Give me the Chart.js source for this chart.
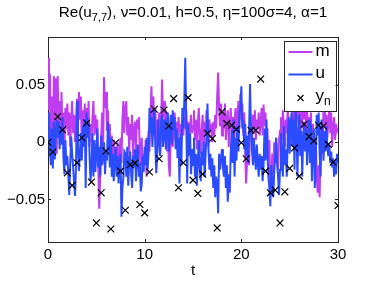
<!DOCTYPE html>
<html><head><meta charset="utf-8">
<script src="https://cdn.jsdelivr.net/npm/chart.js@4.4.0/dist/chart.umd.min.js"></script>
<style>html,body{margin:0;padding:0;background:#fff;}canvas{display:block;}</style>
</head><body>
<canvas id="c" width="374" height="281"></canvas>
<script>
// ---------------- data ----------------
const timeStep = 0.1;   // sample spacing of m and u
const obsStep = 0.5;    // spacing of observations y_n (h = 0.5)

const mValues = [
 0.074, 0.028, 0.060, -0.004, 0.040, -0.018, 0.058, 0.006, 0.056, -0.010,
 0.058, 0.014, 0.036, 0.002, 0.044, 0.010, 0.026, -0.006, 0.030, 0.012,
 0.034, 0.006, 0.026, -0.004, 0.020, 0.036, 0.008, 0.024, 0.000, 0.018,
 0.038, 0.012, 0.044, 0.020, 0.040, -0.006, 0.028, 0.004, 0.034, 0.010,
 0.030, 0.012, 0.036, -0.004, 0.016, 0.000, 0.022, 0.036, 0.006, 0.024,
 0.008, 0.020, -0.020, -0.058, -0.030, 0.004, 0.026, -0.006, 0.057, 0.030,
 0.044, 0.010, 0.028, -0.004, 0.016, -0.016, 0.006, -0.026, 0.002, -0.020,
 -0.004, -0.024, 0.000, -0.030, -0.012, 0.004, -0.018, 0.020, 0.036, 0.008,
 0.030, 0.036, 0.006, 0.022, -0.010, 0.016, 0.002, 0.024, -0.012, 0.010,
 0.018, -0.006, 0.020, 0.012, 0.022, -0.008, -0.020, 0.004, -0.026, -0.010,
 -0.020, 0.002, -0.030, -0.014, 0.010, -0.008, 0.024, 0.049, 0.010, 0.040,
 0.014, 0.030, -0.006, 0.020, 0.002, 0.026, -0.010, 0.016, 0.055, 0.022,
 0.036, 0.004, 0.028, -0.008, 0.012, -0.020, -0.030, 0.006, 0.018, -0.004,
 0.014, 0.026, 0.002, 0.018, -0.006, 0.022, 0.008, 0.016, 0.000, 0.020,
 0.006, 0.022, 0.012, 0.028, 0.004, 0.018, -0.004, 0.014, 0.024, 0.008,
 0.014, 0.028, 0.002, 0.020, -0.006, 0.016, 0.030, 0.004, -0.010, 0.012,
 0.024, -0.008, 0.018, 0.006, 0.028, 0.010, -0.004, 0.020, 0.008, 0.016,
 0.000, 0.018, 0.006, 0.024, 0.012, 0.040, 0.061, 0.030, 0.014, 0.034,
 0.006, 0.026, 0.012, 0.034, 0.002, 0.020, 0.028, -0.004, 0.016, 0.030,
 0.010, 0.022, 0.002, 0.018, 0.030, 0.004, 0.024, 0.036, 0.012, 0.042,
 0.020, 0.034, 0.006, 0.026, -0.010, -0.036, -0.014, 0.006, -0.020, 0.008,
 0.018, 0.004, 0.024, 0.010, 0.028, 0.002, 0.020, 0.012, 0.026, 0.006,
 0.018, 0.030, 0.006, 0.033, 0.014, 0.026, -0.004, 0.012, -0.016, 0.002,
 -0.042, -0.034, -0.010, -0.028, 0.000, -0.018, 0.004, -0.014, -0.024, 0.002,
 0.010, 0.022, 0.002, 0.028, 0.014, -0.004, 0.020, 0.008, 0.030, 0.012,
 0.020, -0.002, 0.018, 0.030, 0.006, 0.034, 0.010, 0.024, 0.040, 0.016,
 0.028, 0.004, 0.036, 0.012, 0.049, 0.020, 0.044, 0.008, 0.030, 0.002,
 0.022, 0.010, 0.026, -0.004, 0.016, 0.006, -0.012, 0.004, -0.030, -0.044,
 -0.020, -0.048, -0.006, 0.016, -0.010, 0.030, 0.040, 0.012, 0.024, 0.004,
 0.018, 0.032, 0.008, 0.026, -0.004, 0.014, 0.022, 0.002, 0.016, 0.010,
 0.012
];

const uValues = [
 0.000, 0.026, -0.008, -0.020, 0.012, -0.023, 0.018, -0.015, 0.008, 0.020,
 0.004, 0.018, -0.006, 0.012, -0.002, 0.022, -0.014, -0.028, 0.002, -0.020,
 -0.012, -0.028, -0.046, -0.018, 0.005, -0.010, -0.022, -0.035, -0.047, -0.020,
 0.036, -0.005, -0.025, -0.010, 0.008, -0.016, 0.014, -0.004, 0.020, -0.040,
 0.026, 0.004, 0.018, -0.012, -0.034, -0.020, 0.008, -0.030, 0.002, -0.026,
 -0.010, 0.012, -0.022, -0.004, -0.030, 0.006, -0.020, -0.012, 0.000, -0.028,
 -0.008, -0.016, 0.018, 0.002, -0.022, 0.004, -0.030, -0.010, -0.034, -0.016,
 -0.004, -0.030, -0.012, -0.036, -0.020, -0.010, -0.065, -0.040, -0.030, -0.008,
 -0.010, -0.030, -0.004, -0.038, -0.016, -0.008, -0.028, -0.040, -0.012, -0.022,
 -0.006, -0.034, -0.014, -0.002, -0.030, -0.018, -0.043, -0.036, -0.012, -0.026,
 -0.004, -0.020, 0.004, -0.024, -0.010, 0.030, 0.008, 0.022, -0.004, 0.016,
 0.028, -0.002, -0.027, -0.010, 0.020, 0.002, -0.012, 0.018, 0.024, -0.004,
 0.020, 0.006, -0.006, 0.016, 0.026, -0.008, 0.010, 0.024, -0.002, 0.028,
 0.010, 0.022, -0.006, 0.012, -0.014, 0.004, -0.036, 0.008, -0.020, 0.030,
 0.012, 0.036, 0.074, 0.020, -0.036, 0.016, -0.012, 0.008, -0.028, -0.006,
 -0.020, 0.004, -0.030, -0.010, -0.038, -0.016, 0.002, -0.024, -0.034, -0.008,
 -0.020, 0.000, -0.030, -0.012, 0.008, 0.034, -0.006, -0.024, -0.010, -0.030,
 -0.014, -0.040, -0.020, -0.048, -0.030, -0.036, -0.062, -0.010, -0.024, -0.014,
 -0.006, -0.022, -0.030, -0.012, -0.040, -0.020, -0.052, -0.028, -0.044, -0.010,
 0.010, -0.018, 0.020, -0.030, 0.004, -0.016, 0.014, -0.008, 0.024, 0.030,
 0.049, 0.012, 0.020, -0.006, 0.016, -0.012, 0.006, -0.018, 0.010, 0.051,
 0.012, -0.006, -0.020, 0.004, -0.012, -0.024, -0.002, -0.018, -0.030, -0.010,
 -0.024, -0.012, -0.034, -0.020, 0.012, -0.016, 0.020, -0.008, -0.030, -0.040,
 -0.056, -0.020, -0.036, -0.048, -0.026, -0.012, 0.004, -0.018, -0.030, -0.046,
 -0.024, 0.008, -0.014, -0.030, 0.014, -0.020, -0.006, -0.030, 0.004, 0.022,
 -0.010, 0.016, 0.026, -0.004, 0.020, -0.024, 0.031, 0.018, -0.030, 0.006,
 0.024, -0.012, 0.010, -0.030, 0.004, 0.018, -0.008, 0.012, -0.020, 0.000,
 0.020, -0.018, 0.016, -0.034, -0.008, 0.012, -0.040, -0.016, 0.024, 0.006,
 0.026, -0.010, -0.030, 0.020, 0.004, -0.016, 0.010, -0.008, 0.014, -0.004,
 -0.012, -0.002, -0.018, -0.008, -0.022, -0.014, -0.030, -0.016, -0.028, -0.010,
 -0.018
];

const obsValues = [
 0.000, -0.0085, 0.0225, 0.011, -0.0267, -0.0377, -0.0179, 0.004, 0.0169, -0.0348,
 -0.0705, -0.0442, -0.0076, -0.0758, -0.0004, -0.0252, -0.0594, -0.0196, -0.0182, -0.0544,
 -0.0617, -0.026, 0.0289, -0.0144, 0.0283, 0.0143, 0.0382, -0.0398, -0.0179, 0.0391,
 -0.0331, -0.0447, -0.0278, 0.0079, 0.0032, -0.0749, 0.0266, 0.0163, 0.0149, 0.0114,
 -0.0004, -0.0144, 0.0105, 0.0105, 0.0553, -0.0252, -0.0442, -0.0418, -0.0705, -0.0433,
 -0.0228, -0.005, -0.0296, 0.0158, 0.005, 0.0011, 0.0149, 0.0143, -0.0018, -0.0173,
 -0.0553
];

const xTickValues = [0, 10, 20, 30];
const xTickLabels = ['0', '10', '20', '30'];
const yTickValues = [-0.05, 0, 0.05];
const yTickLabels = ['\u22120.05', '0', '0.05'];
const xRange = [0, 30];
const yRange = [-0.0872, 0.0921];
const seriesLabels = ['m', 'u', 'y_n'];
const xAxisLabel = 't';
const titleMain = 'Re(u';
const titleSub = '7,7';
const titleRest = '), \u03bd=0.01, h=0.5, \u03b7=100\u03c3=4, \u03b1=1';

// ---------------- styling ----------------
const FONT_FAMILY = '"Liberation Sans", Arial, Helvetica, sans-serif';
const M_COLOR = '#bf3cf0';
const U_COLOR = '#2b4bff';
const AXIS_COLOR = '#262626';

const mPoints = mValues.map((v, i) => ({ x: i * timeStep, y: v }));
const uPoints = uValues.map((v, i) => ({ x: i * timeStep, y: v }));
const obsPoints = obsValues.map((v, i) => ({ x: i * obsStep, y: v }));

function drawSubText(ctx, parts, x, y, size) {
  let cx = x;
  parts.forEach(p => {
    ctx.font = (p.sub ? Math.round(size * 0.72) : size) + 'px ' + FONT_FAMILY;
    ctx.fillText(p.t, cx, p.sub ? y + size * 0.32 : y);
    cx += ctx.measureText(p.t).width;
  });
}
function measureParts(ctx, parts, size) {
  let w = 0;
  parts.forEach(p => {
    ctx.font = (p.sub ? Math.round(size * 0.72) : size) + 'px ' + FONT_FAMILY;
    w += ctx.measureText(p.t).width;
  });
  return w;
}
function labelParts(label) {
  const k = label.indexOf('_');
  if (k < 0) return [{ t: label, sub: false }];
  return [{ t: label.slice(0, k), sub: false }, { t: label.slice(k + 1), sub: true }];
}

const framePlugin = {
  id: 'frame',
  beforeDatasetsDraw(chart) {
    const { ctx, chartArea: a } = chart;
    const xs = chart.scales.x, ys = chart.scales.y;
    ctx.save();
    ctx.strokeStyle = AXIS_COLOR;
    ctx.lineWidth = 1;
    ctx.strokeRect(Math.round(a.left) + 0.5, Math.round(a.top) + 0.5,
      Math.round(a.right - a.left), Math.round(a.bottom - a.top));
    const tl = 3;
    ctx.beginPath();
    xTickValues.forEach(v => {
      const px = Math.round(xs.getPixelForValue(v)) + 0.5;
      ctx.moveTo(px, a.bottom); ctx.lineTo(px, a.bottom - tl);
      ctx.moveTo(px, a.top); ctx.lineTo(px, a.top + tl);
    });
    yTickValues.forEach(v => {
      const py = Math.round(ys.getPixelForValue(v)) + 0.5;
      ctx.moveTo(a.left, py); ctx.lineTo(a.left + tl, py);
      ctx.moveTo(a.right, py); ctx.lineTo(a.right - tl, py);
    });
    ctx.stroke();
    ctx.restore();
  },
  afterDraw(chart) {
    const { ctx, chartArea: a } = chart;
    ctx.save();
    // title
    const size = 15.3;
    const parts = [{ t: titleMain, sub: false }, { t: titleSub, sub: true }, { t: titleRest, sub: false }];
    const w = measureParts(ctx, parts, size);
    ctx.fillStyle = '#000';
    ctx.textBaseline = 'middle';
    drawSubText(ctx, parts, (a.left + a.right) / 2 - w / 2, 13, size);

    // legend
    const bw = 52, bh = 70;
    const bx = a.right - 54.5, by = a.top + 4;
    ctx.fillStyle = '#fff';
    ctx.fillRect(bx, by, bw, bh);
    ctx.strokeStyle = AXIS_COLOR;
    ctx.lineWidth = 1;
    ctx.strokeRect(Math.round(bx) + 0.5, Math.round(by) + 0.5, bw, bh);
    const rows = [by + 11, by + 33.5, by + 56];
    chart.data.datasets.forEach((ds, i) => {
      const yy = rows[i];
      if (ds.showLine === false) {
        ctx.strokeStyle = '#000';
        ctx.lineWidth = 1.1;
        const cx = bx + 17, r = 3;
        ctx.beginPath();
        ctx.moveTo(cx - r, yy - r + 1); ctx.lineTo(cx + r, yy + r + 1);
        ctx.moveTo(cx + r, yy - r + 1); ctx.lineTo(cx - r, yy + r + 1);
        ctx.stroke();
      } else {
        ctx.strokeStyle = ds.borderColor;
        ctx.lineWidth = 2;
        ctx.beginPath();
        ctx.moveTo(bx + 5, yy); ctx.lineTo(bx + 29, yy);
        ctx.stroke();
      }
      ctx.fillStyle = '#000';
      ctx.textBaseline = 'middle';
      drawSubText(ctx, labelParts(ds.label), bx + 32, yy - 1, 17);
    });
    ctx.restore();
  }
};

const tickFont = { family: FONT_FAMILY, size: 15 };

new Chart(document.getElementById('c'), {
  type: 'line',
  data: {
    datasets: [
      { label: seriesLabels[0], data: mPoints, borderColor: M_COLOR, borderWidth: 2,
        pointRadius: 0, tension: 0, fill: false, order: 2 },
      { label: seriesLabels[1], data: uPoints, borderColor: U_COLOR, borderWidth: 2,
        pointRadius: 0, tension: 0, fill: false, order: 1 },
      { label: seriesLabels[2], data: obsPoints, showLine: false, pointStyle: 'crossRot',
        pointRadius: 4.8, borderColor: '#000', backgroundColor: '#000', pointBorderWidth: 1.2,
        borderWidth: 1.2, order: 0 }
    ]
  },
  options: {
    responsive: false,
    animation: false,
    events: [],
    layout: { padding: { left: 0, right: 36, top: 37, bottom: 0 } },
    plugins: { legend: { display: false }, title: { display: false }, tooltip: { enabled: false } },
    scales: {
      x: {
        type: 'linear', min: xRange[0], max: xRange[1],
        afterBuildTicks: s => { s.ticks = xTickValues.map(v => ({ value: v })); },
        afterFit: s => { s.height = 39; },
        grid: { display: false, drawTicks: false },
        border: { display: false },
        ticks: { font: tickFont, color: '#000', padding: 4, maxRotation: 0, autoSkip: false,
          callback: v => xTickLabels[xTickValues.indexOf(v)] },
        title: { display: true, text: xAxisLabel, font: tickFont, color: '#000', padding: { top: 0, bottom: 1 } }
      },
      y: {
        type: 'linear', min: yRange[0], max: yRange[1],
        afterBuildTicks: s => { s.ticks = yTickValues.map(v => ({ value: v })); },
        afterFit: s => { s.width = 48; },
        grid: { display: false, drawTicks: false },
        border: { display: false },
        ticks: { font: tickFont, color: '#000', padding: 3, autoSkip: false,
          callback: v => yTickLabels[yTickValues.indexOf(v)] }
      }
    }
  },
  plugins: [framePlugin]
});
</script>
</body></html>
